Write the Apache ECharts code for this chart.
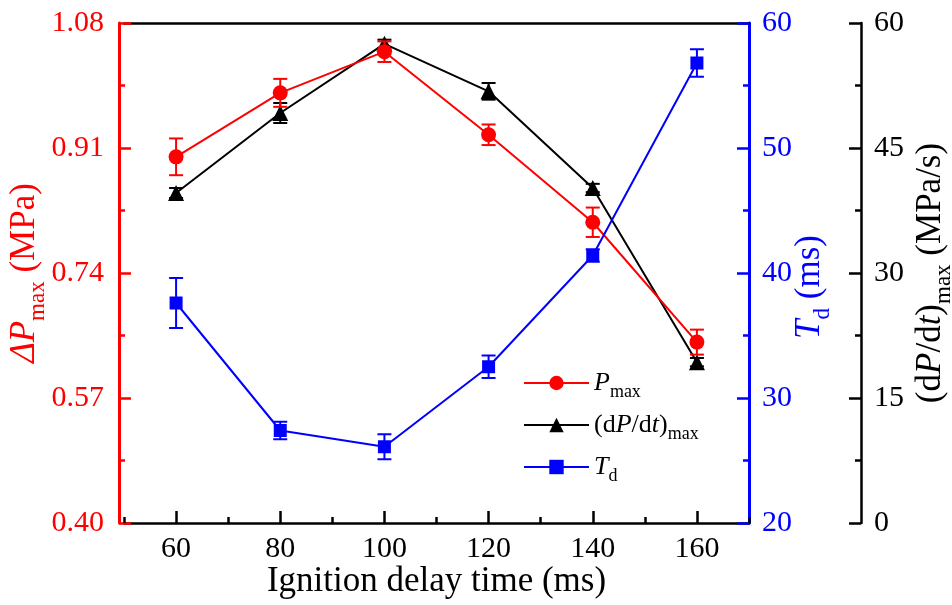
<!DOCTYPE html>
<html><head><meta charset="utf-8">
<script src="https://cdn.jsdelivr.net/npm/echarts@6/dist/echarts.min.js"></script>
<style>html,body{margin:0;padding:0;background:#fff}#c{width:952px;height:605px}</style>
</head><body><div id="c"></div>
<script>
// ---- data ----
const xs = [60, 80, 100, 120, 140, 160];
const pmax = [0.898, 0.985, 1.041, 0.928, 0.809, 0.646];
const pmaxErr = [0.025, 0.019, 0.014, 0.014, 0.020, 0.017];
const dpdt = [39.6, 49.2, 57.5, 51.8, 40.2, 19.3];
const dpdtErr = [0.6, 1.2, 0.5, 1.0, 0.5, 0.5];
const td = [37.6, 27.4, 26.1, 32.5, 41.4, 56.8];
const tdErr = [2.0, 0.7, 1.0, 0.9, 0.5, 1.1];
const xMajorTicks = [60, 80, 100, 120, 140, 160];
const xMinorTicks = [50, 70, 90, 110, 130, 150, 170];
const pTicks = [0.40, 0.57, 0.74, 0.91, 1.08];
const pMinorTicks = [0.485, 0.655, 0.825, 0.995];
const legendLabels = {
  'Pmax': '{i|P}{s|max}',
  'dPdt': '{n|(d}{i|P}{n|/d}{i|t}{n|)}{s|max}',
  'Td': '{i|T}{s|d}'
};

const F = '"Liberation Serif","Times New Roman",serif';
const RED = '#ff0000', BLUE = '#0000ff', BLACK = '#000000';

function rich(color, S, s) {
  const c = 0.55 * S - 0.3 * s;
  const t = Math.round(2 * c);
  return {
    n: {fontFamily: F, fontSize: S, color: color, lineHeight: S, verticalAlign: 'middle'},
    i: {fontFamily: F, fontSize: S, color: color, fontStyle: 'italic', lineHeight: S, verticalAlign: 'middle'},
    s: {fontFamily: F, fontSize: s, color: color, verticalAlign: 'bottom', padding: [t, 0, 0, 0]}
  };
}

function errRender(color) {
  return function (params, api) {
    const x = api.value(0), lo = api.value(1), hi = api.value(2);
    const a = api.coord([x, lo]), b = api.coord([x, hi]);
    const hw = 7;
    const st = {stroke: color, lineWidth: 2};
    return {type: 'group', children: [
      {type: 'line', shape: {x1: a[0], y1: a[1], x2: b[0], y2: b[1]}, style: st},
      {type: 'line', shape: {x1: a[0] - hw, y1: a[1], x2: a[0] + hw, y2: a[1]}, style: st},
      {type: 'line', shape: {x1: b[0] - hw, y1: b[1], x2: b[0] + hw, y2: b[1]}, style: st}
    ]};
  };
}
function errData(vals, errs) {
  return xs.map((x, k) => [x, vals[k] - errs[k], vals[k] + errs[k]]);
}
function pts(vals) { return xs.map((x, k) => [x, vals[k]]); }

const chart = echarts.init(document.getElementById('c'));
const tickFont = 30;
const nameFont = 35, nameSub = 23;
chart.setOption({
  animation: false,
  backgroundColor: '#fff',
  grid: {left: 124, right: 203, top: 23, bottom: 82, containLabel: false, outerBoundsMode: 'none'},
  legend: {
    orient: 'vertical', left: 523, top: 370, padding: 0, itemWidth: 65, itemHeight: 18, itemGap: 11,
    data: ['Pmax', 'dPdt', 'Td'],
    formatter: name => legendLabels[name],
    textStyle: {color: BLACK, rich: rich(BLACK, 26, 18)}
  },
  xAxis: [
    {type: 'value', position: 'bottom', min: 50, max: 170,
     axisLine: {lineStyle: {color: BLACK, width: 2.5}},
     axisTick: {inside: true, length: 12, lineStyle: {color: BLACK, width: 2.5}, customValues: xMajorTicks},
     axisLabel: {customValues: xMajorTicks, color: BLACK, fontFamily: F, fontSize: tickFont, margin: 11},
     splitLine: {show: false},
     name: 'Ignition delay time (ms)', nameLocation: 'middle', nameGap: 41, nameMoveOverlap: false,
     nameTextStyle: {color: BLACK, fontFamily: F, fontSize: nameFont}},
    {type: 'value', position: 'bottom', min: 50, max: 170,
     axisLine: {show: false},
     axisTick: {inside: true, length: 6, lineStyle: {color: BLACK, width: 2.5}, customValues: xMinorTicks},
     axisLabel: {show: false}, splitLine: {show: false}},
    {type: 'value', position: 'top', min: 50, max: 170,
     axisLine: {lineStyle: {color: BLACK, width: 2.5}},
     axisTick: {show: false}, axisLabel: {show: false}, splitLine: {show: false}}
  ],
  yAxis: [
    {type: 'value', position: 'left', offset: 5, min: 0.40, max: 1.08,
     axisLine: {show: true, lineStyle: {color: RED, width: 3}},
     axisTick: {show: true, inside: true, length: 12, lineStyle: {color: RED, width: 2.5}, customValues: pTicks},
     axisLabel: {customValues: pTicks, formatter: v => v.toFixed(2), color: RED, fontFamily: F, fontSize: tickFont, margin: 15},
     splitLine: {show: false},
     name: '{i|ΔP}{s|max}{n| (MPa)}', nameLocation: 'middle', nameGap: 70, nameRotate: 90, nameMoveOverlap: false,
     nameTextStyle: {rich: rich(RED, nameFont, nameSub)}},
    {type: 'value', position: 'right', offset: 0, min: 20, max: 60, interval: 10,
     axisLine: {show: true, lineStyle: {color: BLUE, width: 3}},
     axisTick: {show: true, inside: true, length: 12, lineStyle: {color: BLUE, width: 2.5}},
     minorTick: {show: true, splitNumber: 2, length: 6, lineStyle: {color: BLUE, width: 2.5}},
     axisLabel: {color: BLUE, fontFamily: F, fontSize: tickFont, margin: 13},
     splitLine: {show: false},
     name: '{i|T}{s|d}{n| (ms)}', nameLocation: 'middle', nameGap: 37, nameRotate: 90, nameMoveOverlap: false,
     nameTextStyle: {padding: [0, 28, 0, 0], rich: rich(BLUE, nameFont, nameSub)}},
    {type: 'value', position: 'right', offset: 112, min: 0, max: 60, interval: 15,
     axisLine: {show: true, lineStyle: {color: BLACK, width: 2.5}},
     axisTick: {show: true, inside: true, length: 12, lineStyle: {color: BLACK, width: 2.5}},
     minorTick: {show: true, splitNumber: 2, length: 6, lineStyle: {color: BLACK, width: 2.5}},
     axisLabel: {color: BLACK, fontFamily: F, fontSize: tickFont, margin: 13},
     splitLine: {show: false},
     name: '{n|(d}{i|P}{n|/d}{i|t}{n|)}{s|max}{n| (MPa/s)}', nameLocation: 'middle', nameGap: 46, nameRotate: 90, nameMoveOverlap: false,
     nameTextStyle: {rich: rich(BLACK, nameFont, nameSub)}},
    {type: 'value', position: 'left', offset: 5, min: 0.40, max: 1.08,
     axisLine: {show: false},
     axisTick: {show: true, inside: true, length: 6, lineStyle: {color: RED, width: 2.5}, customValues: pMinorTicks},
     axisLabel: {show: false}, splitLine: {show: false}}
  ],
  series: [
    {name: 'dPdt', type: 'line', yAxisIndex: 2, data: pts(dpdt), symbol: 'triangle', symbolSize: 16,
     lineStyle: {color: BLACK, width: 2}, itemStyle: {color: BLACK}, z: 3},
    {name: 'dPdtErr', type: 'custom', yAxisIndex: 2, data: errData(dpdt, dpdtErr), encode: {x: 0, y: [1, 2]},
     renderItem: errRender(BLACK), z: 4},
    {name: 'Pmax', type: 'line', yAxisIndex: 0, data: pts(pmax), symbol: 'circle', symbolSize: 15,
     lineStyle: {color: RED, width: 2}, itemStyle: {color: RED}, z: 5},
    {name: 'PmaxErr', type: 'custom', yAxisIndex: 0, data: errData(pmax, pmaxErr), encode: {x: 0, y: [1, 2]},
     renderItem: errRender(RED), z: 6},
    {name: 'Td', type: 'line', yAxisIndex: 1, data: pts(td), symbol: 'rect', symbolSize: 13,
     lineStyle: {color: BLUE, width: 2}, itemStyle: {color: BLUE}, z: 7},
    {name: 'TdErr', type: 'custom', yAxisIndex: 1, data: errData(td, tdErr), encode: {x: 0, y: [1, 2]},
     renderItem: errRender(BLUE), z: 8}
  ]
});
</script>
</body></html>
